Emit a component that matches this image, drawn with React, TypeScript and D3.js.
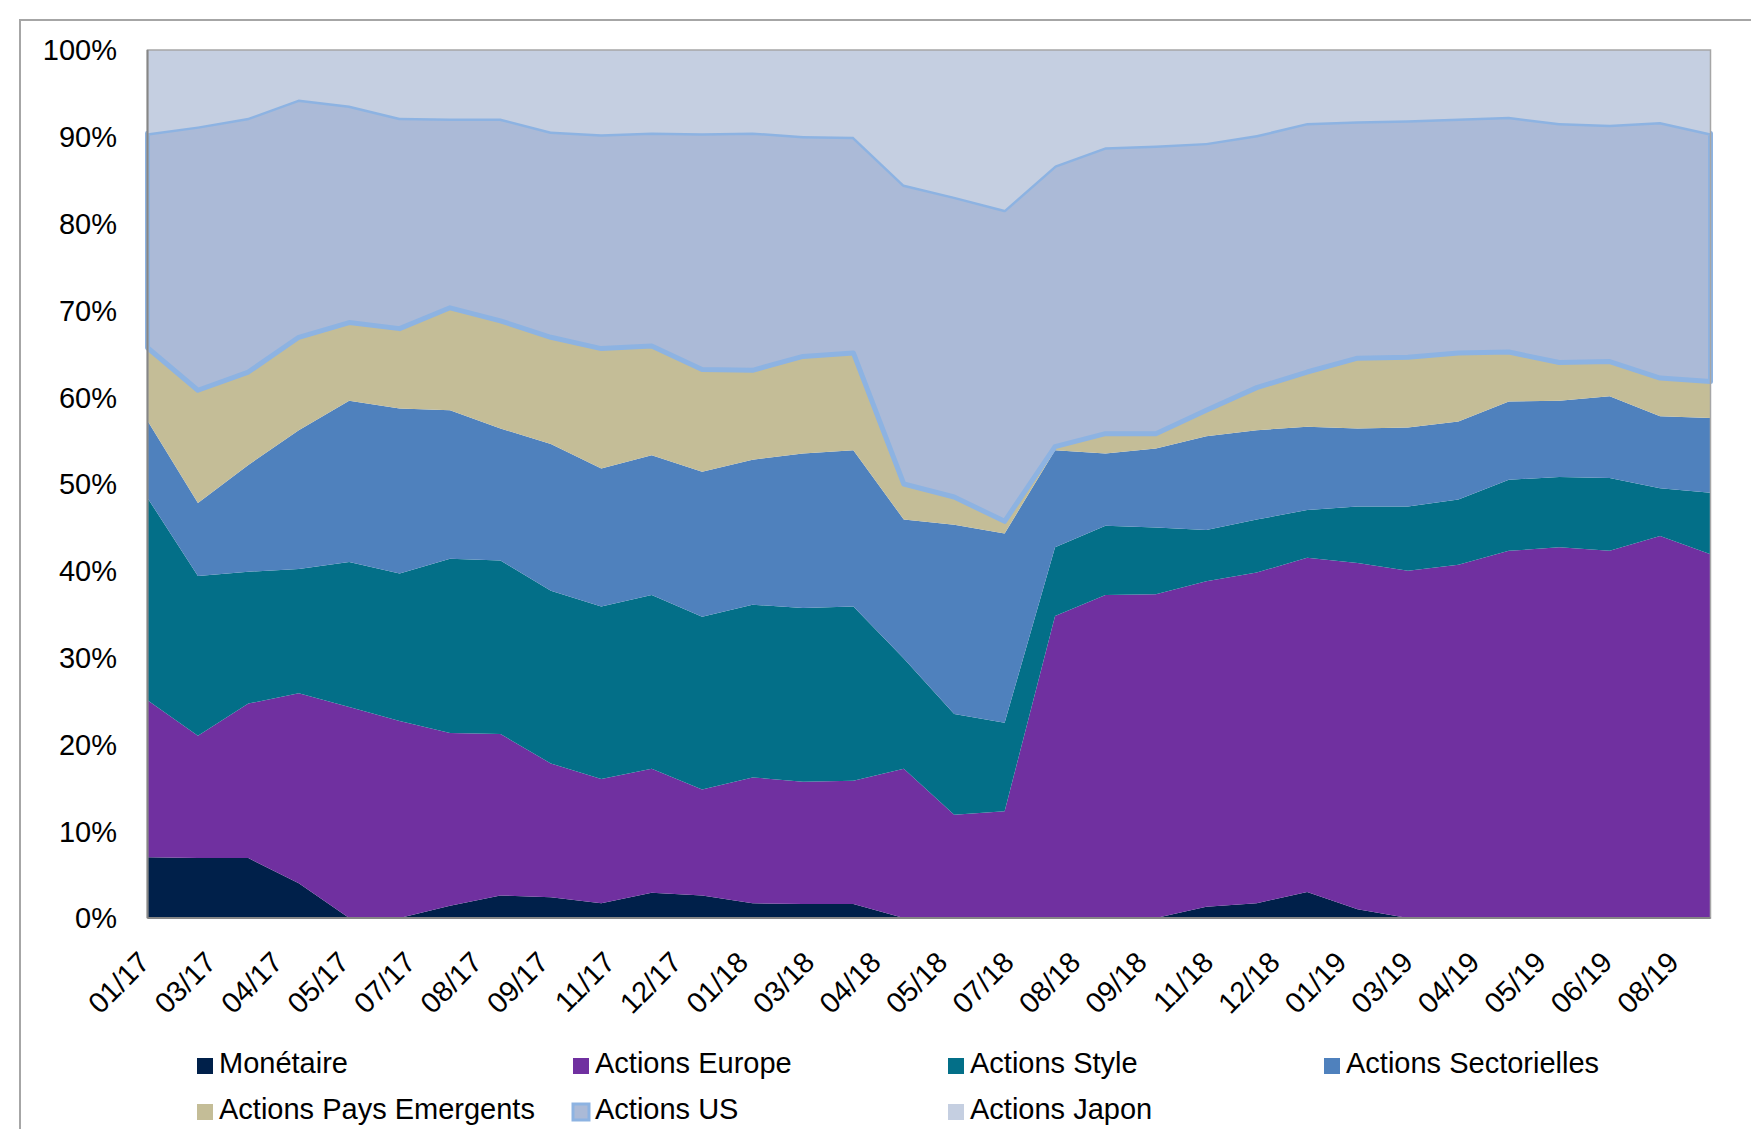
import React from 'react';
import * as d3 from 'd3';

const months = [
  '01/17', '02/17', '03/17', '04/17', '05/17', '06/17', '07/17', '08/17',
  '09/17', '10/17', '11/17', '12/17', '01/18', '02/18', '03/18', '04/18',
  '05/18', '06/18', '07/18', '08/18', '09/18', '10/18', '11/18', '12/18',
  '01/19', '02/19', '03/19', '04/19', '05/19', '06/19', '07/19', '08/19',
];

// labels shown on the date axis
const tickLabels = [
  '01/17', '03/17', '04/17', '05/17', '07/17', '08/17', '09/17', '11/17',
  '12/17', '01/18', '03/18', '04/18', '05/18', '07/18', '08/18', '09/18',
  '11/18', '12/18', '01/19', '03/19', '04/19', '05/19', '06/19', '08/19',
];

const monetaire = [7.0, 6.9, 6.9, 4.0, 0, 0, 1.4, 2.6, 2.4, 1.7, 2.9, 2.6, 1.7, 1.6, 1.6, 0, 0, 0, 0, 0, 0, 1.3, 1.7, 3.0, 1.0, 0, 0, 0, 0, 0, 0, 0];
const actionsEurope = [18.1, 14.1, 17.8, 21.9, 24.3, 22.7, 19.9, 18.6, 15.4, 14.3, 14.3, 12.2, 14.5, 14.1, 14.2, 17.2, 11.9, 12.3, 34.8, 37.2, 37.3, 37.5, 38.1, 38.5, 39.9, 40.0, 40.7, 42.3, 42.7, 42.3, 44.0, 41.9];
const actionsStyle = [23.3, 18.4, 15.2, 14.3, 16.7, 17.0, 20.1, 20.0, 19.9, 19.9, 20.0, 19.9, 19.9, 20.0, 20.1, 12.7, 11.6, 10.2, 7.9, 8.0, 7.7, 5.9, 6.1, 5.5, 6.5, 7.4, 7.5, 8.2, 8.1, 8.4, 5.5, 7.1];
const actionsSectorielles = [8.9, 8.4, 12.3, 16.0, 18.6, 19.0, 17.1, 15.2, 16.9, 15.9, 16.1, 16.7, 16.7, 17.8, 18.0, 16.0, 21.8, 21.8, 11.2, 8.3, 9.1, 10.8, 10.3, 9.6, 9.0, 9.1, 9.0, 9.0, 8.8, 9.4, 8.3, 8.6];
const actionsEmergents = [8.4, 13.0, 10.7, 10.7, 9.0, 9.2, 11.8, 12.4, 12.3, 13.8, 12.6, 11.8, 10.3, 11.2, 11.2, 4.1, 3.2, 1.4, 0.4, 2.3, 1.7, 3.0, 4.9, 6.3, 8.1, 8.1, 7.9, 5.7, 4.4, 4.0, 4.4, 4.2];
const actionsUS = [24.7, 30.4, 29.3, 27.4, 25.0, 24.3, 21.8, 23.3, 23.7, 24.7, 24.6, 27.2, 27.4, 25.4, 24.9, 34.5, 34.6, 35.9, 32.4, 33.0, 33.2, 30.8, 29.1, 28.7, 27.3, 27.3, 27.0, 27.1, 27.6, 27.3, 29.5, 28.6];
const actionsJapon = [9.6, 8.8, 7.8, 5.7, 6.4, 7.8, 7.9, 7.9, 9.4, 9.7, 9.5, 9.6, 9.5, 9.9, 10.0, 15.5, 16.9, 18.4, 13.3, 11.2, 11.0, 10.7, 9.8, 8.4, 8.2, 8.1, 7.9, 7.7, 8.4, 8.6, 8.3, 9.6];

const seriesNames = [
  'Monétaire',
  'Actions Europe',
  'Actions Style',
  'Actions Sectorielles',
  'Actions Pays Emergents',
  'Actions US',
  'Actions Japon',
];
const seriesValues = [monetaire, actionsEurope, actionsStyle, actionsSectorielles, actionsEmergents, actionsUS, actionsJapon];
const colors = ['#00204a', '#7030a0', '#036f88', '#4f81bd', '#c4bd97', '#abbad7', '#c5cfe1'];

const W = 1751;
const H = 1129;
const FONT = '"Liberation Sans", Arial, sans-serif';
const margin = { left: 147.5, right: 1710.5, top: 50, bottom: 918 };

export default function App() {
  const rows = months.map((m, i) => {
    const r: Record<string, number | string> = { month: m };
    seriesNames.forEach((s, k) => (r[s] = seriesValues[k][i]));
    return r;
  });

  const stack = d3
    .stack<Record<string, number | string>>()
    .keys(seriesNames)
    .value((d, key) => d[key] as number)
    .offset(d3.stackOffsetExpand);
  const layers = stack(rows);

  const x = d3.scalePoint<string>().domain(months).range([margin.left, margin.right]);
  const xLabels = d3
    .scalePoint<string>()
    .domain(tickLabels)
    .range([margin.left + 4, margin.right - 30]);
  const y = d3.scaleLinear().domain([0, 1]).range([margin.bottom, margin.top]);
  const yTicks = d3.range(0, 11).map((d) => d / 10);

  const area = d3
    .area<d3.SeriesPoint<Record<string, number | string>>>()
    .x((d) => x(d.data.month as string)!)
    .y0((d) => y(d[0]))
    .y1((d) => y(d[1]));

  const usIndex = seriesNames.indexOf('Actions US');

  // legend: 4 columns, 2 rows
  const legendX = [197, 573, 948, 1324];
  const legendY = [1073, 1119];

  return (
    <svg
      width={W}
      height={H}
      style={{ position: 'absolute', left: 0, top: 0, background: '#fff' }}
      fontFamily={FONT}
    >
      <rect x={20} y={20} width={W + 20} height={H + 20} fill="#fff" stroke="#a6a6a6" strokeWidth={2} />

      {layers.map((layer, k) => (
        <path
          key={layer.key}
          d={area(layer) as string}
          fill={colors[k]}
          stroke={k === usIndex ? '#8db3e2' : 'none'}
          strokeWidth={k === usIndex ? 5 : 0}
          strokeLinejoin="round"
        />
      ))}

      {/* plot frame */}
      <rect
        x={margin.left}
        y={margin.top}
        width={margin.right - margin.left}
        height={margin.bottom - margin.top}
        fill="none"
        stroke="#a6a6a6"
        strokeWidth={1.5}
      />
      <line x1={margin.left} x2={margin.left} y1={margin.top} y2={margin.bottom} stroke="#868686" strokeWidth={2} />
      <line x1={margin.left} x2={margin.right} y1={margin.bottom} y2={margin.bottom} stroke="#868686" strokeWidth={2} />

      {yTicks.map((t) => (
        <text
          key={t}
          x={117}
          y={y(t)}
          dy="0.36em"
          textAnchor="end"
          fontSize={29}
          fill="#000"
        >
          {d3.format('.0%')(t)}
        </text>
      ))}

      {tickLabels.map((lab) => (
        <text
          key={lab}
          transform={`translate(${xLabels(lab)},${margin.bottom + 46}) rotate(-45)`}
          textAnchor="end"
          fontSize={29}
          fill="#000"
        >
          {lab}
        </text>
      ))}

      {seriesNames.map((s, k) => {
        const col = k % 4;
        const row = Math.floor(k / 4);
        const lx = legendX[col];
        const ly = legendY[row];
        const isUS = k === usIndex;
        return (
          <g key={s}>
            <rect
              x={lx}
              y={ly - 15}
              width={16}
              height={16}
              fill={colors[k]}
              stroke={isUS ? '#8db3e2' : 'none'}
              strokeWidth={isUS ? 3 : 0}
            />
            <text x={lx + 22} y={ly} fontSize={29} fill="#000">
              {s}
            </text>
          </g>
        );
      })}
    </svg>
  );
}
